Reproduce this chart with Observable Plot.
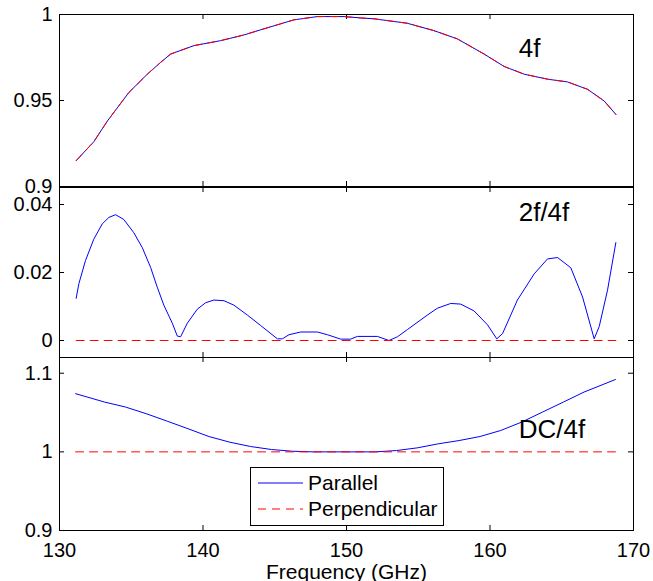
<!DOCTYPE html>
<html><head><meta charset="utf-8">
<script src="https://cdn.jsdelivr.net/npm/d3@7"></script>
<script src="https://cdn.jsdelivr.net/npm/@observablehq/plot@0.6"></script>
<style>
body{margin:0;background:#fff;}
#chart{position:relative;width:653px;height:581px;font-family:"Liberation Sans",Arial,Helvetica,sans-serif;}
#chart > svg{position:absolute;left:0;}
#legend{position:absolute;left:250px;top:467px;width:194px;height:59px;box-sizing:border-box;border:1px solid #000;background:#fff;font-size:21px;}
#legend .row{position:absolute;left:0;height:26px;display:flex;align-items:center;}
#legend svg{margin-left:7px;margin-right:5px;}
</style></head><body><div id="chart"></div>
<script>
// ---- data ----
// Panel 1: 4f
const freq4f = [131.16,132.39,133.33,134.83,136.12,137.04,137.74,139.37,141.23,142.85,144.02,145.18,146.34,147.97,149.83,150.99,151.92,154.24,156.10,157.73,159.59,160.98,162.38,164.01,165.40,166.80,167.96,168.77];
const parallel4f = [0.915,0.926,0.938,0.9546,0.9653,0.9721,0.977,0.9819,0.9848,0.9881,0.9911,0.994,0.9969,0.9988,0.9988,0.998,0.9975,0.9949,0.9906,0.9858,0.977,0.9698,0.9653,0.9624,0.9608,0.9565,0.9497,0.9419];
const perpendicular4f = [0.915,0.926,0.938,0.9546,0.9653,0.9721,0.977,0.9819,0.9848,0.9881,0.9911,0.994,0.9969,0.9988,0.9988,0.998,0.9975,0.9949,0.9906,0.9858,0.977,0.9698,0.9653,0.9624,0.9608,0.9565,0.9497,0.9419];
// Panel 2: 2f/4f
const freq2f = [131.16,131.35,131.81,132.39,132.98,133.44,133.91,134.48,135.18,135.77,136.35,136.81,137.27,137.86,138.21,138.44,138.91,139.60,140.18,140.76,141.46,142.15,143.09,144.02,145.18,145.53,145.99,146.81,147.97,148.67,149.60,150.29,150.76,152.15,152.96,153.55,154.24,155.64,156.34,157.27,157.96,158.89,159.83,160.47,160.87,161.91,163.08,164.01,164.71,165.63,166.45,167.26,167.61,168.19,168.77];
const parallel2f = [0.0124,0.0167,0.0235,0.0298,0.0343,0.0362,0.0370,0.0356,0.0317,0.0273,0.0215,0.0157,0.0104,0.0051,0.0013,0.0011,0.0051,0.0092,0.0111,0.0119,0.0117,0.0104,0.0075,0.0044,0.0005,0.0005,0.0017,0.0025,0.0025,0.0017,0.0004,0.0004,0.0012,0.0012,0.0000,0.0011,0.0032,0.0075,0.0095,0.0109,0.0107,0.0087,0.0046,0.0005,0.0020,0.0119,0.0196,0.0240,0.0244,0.0214,0.0128,0.0005,0.0041,0.0148,0.0288];
const freqPerp2f = [131.16,168.77];
const perpendicular2f = [0,0];
// Panel 3: DC/4f
const freqDC = [131.12,133.15,134.60,136.05,137.51,138.96,140.41,141.87,143.32,144.77,146.23,147.68,152.04,153.49,154.94,156.39,157.85,159.30,160.75,162.20,163.66,165.11,166.56,168.74];
const parallelDC = [1.074,1.0633,1.057,1.0485,1.039,1.0294,1.0195,1.0123,1.0068,1.003,1.0008,1.0,1.0,1.0017,1.0051,1.0102,1.0144,1.0195,1.0272,1.0378,1.0506,1.0633,1.0761,1.092];
const freqPerpDC = [131.12,168.74];
const perpendicularDC = [1,1];
// axes / labels
const xTicks = [130,140,150,160,170];
const yTicks4f = [0.9,0.95,1];
const yTicks2f = [0,0.02,0.04];
const yTicksDC = [0.9,1,1.1];
const panelLabels = ["4f","2f/4f","DC/4f"];
const seriesNames = ["Parallel","Perpendicular"];
const xLabel = "Frequency (GHz)";

// ---- layout ----
const W = 653, ML = 59, MR = 20, PW = W - ML - MR, TICK = 5;
const FONT = '"Liberation Sans", Arial, Helvetica, sans-serif';
const BLUE = "#0000ff", RED = "#ff0000";
const chart = document.getElementById("chart");

function panel({top, height, mt, mb, domain, yTicks, par, parX, perp, perpX, label, labelY, bottom}) {
  const PH = height - mt - mb;
  const marks = [
    Plot.frame({stroke: "#000", strokeWidth: 1}),
    Plot.ruleY(yTicks, {insetRight: PW - TICK, stroke: "#000"}),
    Plot.ruleY(yTicks, {insetLeft: PW - TICK, stroke: "#000"}),
    Plot.ruleX(xTicks, {insetBottom: PH - TICK, stroke: "#000"}),
    Plot.ruleX(xTicks, {insetTop: PH - TICK, stroke: "#000"}),
    Plot.axisY({ticks: yTicks, tickSize: 0, tickPadding: 7, tickFormat: d => String(d), fontSize: 20, label: null}),
    Plot.line(par, {x: parX, y: par, stroke: BLUE, strokeWidth: 1}),
    Plot.line(perp, {x: perpX, y: perp, stroke: RED, strokeWidth: 1, strokeDasharray: "8,6"}),
    Plot.text([label], {x: 162, y: labelY, text: d => d, textAnchor: "start", fontSize: 26, fill: "#000"})
  ];
  if (bottom) {
    marks.push(Plot.axisX({ticks: xTicks, tickSize: 0, tickPadding: 12, tickFormat: d => String(d), fontSize: 20, label: null}));
    marks.push(Plot.text([xLabel], {frameAnchor: "bottom", text: d => d, lineAnchor: "bottom", dy: 48, fontSize: 21, fill: "#000"}));
  }
  const p = Plot.plot({
    width: W, height, marginLeft: ML, marginRight: MR, marginTop: mt, marginBottom: mb,
    x: {domain: [130, 170], axis: bottom ? undefined : null},
    y: {domain},
    style: {fontFamily: FONT, fontSize: "20px", background: "transparent", overflow: "visible", color: "#000"},
    marks
  });
  p.style.top = top + "px";
  chart.appendChild(p);
}

panel({top: 0, height: 187, mt: 14, mb: 1, domain: [0.9, 1], yTicks: yTicks4f,
  par: parallel4f, parX: freq4f, perp: perpendicular4f, perpX: freq4f, label: panelLabels[0], labelY: 0.980});
panel({top: 186, height: 171, mt: 1, mb: 0, domain: [-0.005, 0.045], yTicks: yTicks2f,
  par: parallel2f, parX: freq2f, perp: perpendicular2f, perpX: freqPerp2f, label: panelLabels[1], labelY: 0.0375});
panel({top: 357, height: 224, mt: 0, mb: 51, domain: [0.9, 1.12], yTicks: yTicksDC,
  par: parallelDC, parX: freqDC, perp: perpendicularDC, perpX: freqPerpDC, label: panelLabels[2], labelY: 1.028, bottom: true});

// legend
const legend = document.createElement("div");
legend.id = "legend";
legend.innerHTML =
  `<div class="row" style="top:2px"><svg width="45" height="4"><line x1="0" x2="45" y1="2" y2="2" stroke="${BLUE}" stroke-width="1"/></svg><span>${seriesNames[0]}</span></div>` +
  `<div class="row" style="top:28px"><svg width="45" height="4"><line x1="0" x2="45" y1="2" y2="2" stroke="${RED}" stroke-width="1" stroke-dasharray="8,6"/></svg><span>${seriesNames[1]}</span></div>`;
chart.appendChild(legend);
</script></body></html>
